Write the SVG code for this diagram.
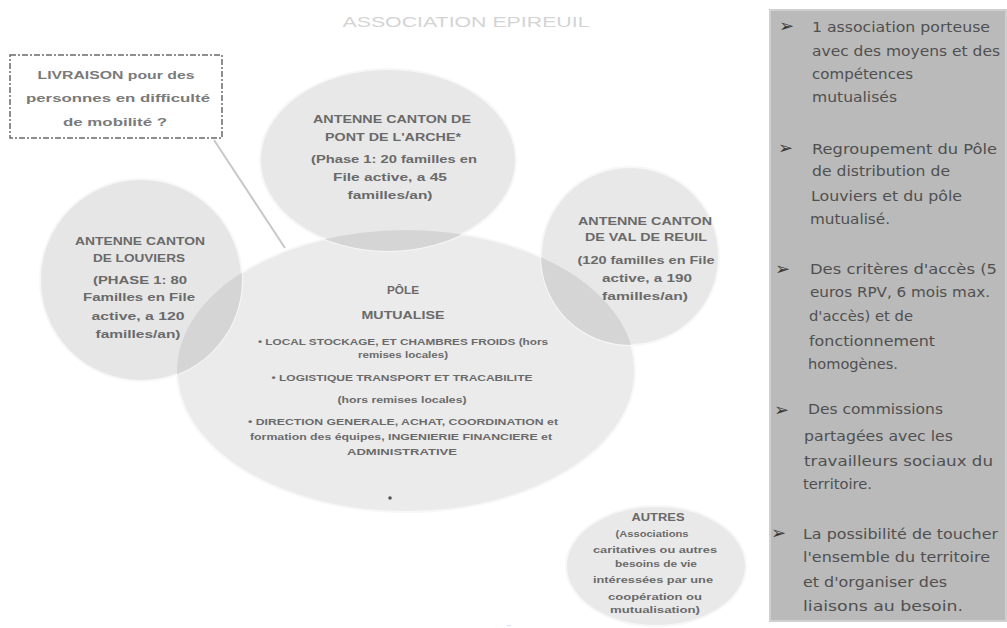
<svg xmlns="http://www.w3.org/2000/svg" width="1007" height="628" viewBox="0 0 1007 628">
<style>
.bg{fill:#ffffff}
.ell{stroke:#f7f7f7;stroke-width:2}
.ov{fill:#d5d5d5}
.nt{font-family:"Liberation Sans",Arial,sans-serif;font-weight:bold;font-size:10.5px;fill:#6a6a6a;text-anchor:middle}
.nts{font-family:"Liberation Sans",Arial,sans-serif;font-weight:bold;font-size:9px;fill:#6a6a6a;text-anchor:middle}
.pt{font-family:"DejaVu Sans",sans-serif;font-size:14px;fill:#505050}
.bu{font-family:"DejaVu Sans",sans-serif;font-size:18px;font-weight:bold;fill:#3a3a3a}
.title{font-family:"Liberation Sans",Arial,sans-serif;font-size:15px;fill:#d4d4d4;text-anchor:middle}
.bx{font-family:"Liberation Sans",Arial,sans-serif;font-weight:bold;font-size:11.5px;fill:#7a7a7a;text-anchor:middle}
</style>
<defs>
<clipPath id="cMain"><ellipse cx="406" cy="371" rx="229" ry="141"/></clipPath>
</defs>
<rect class="bg" x="0" y="0" width="1007" height="628"/>

<text class="title" x="466" y="27" textLength="247" lengthAdjust="spacingAndGlyphs">ASSOCIATION EPIREUIL</text>

<g id="connectors">
<line x1="214" y1="140" x2="285" y2="248" stroke="#c8c8c8" stroke-width="2"/>
</g>

<g id="pole-mutualise">
<ellipse class="ell" cx="406" cy="371" rx="229" ry="141" fill="#ebebeb"/>
</g>

<g id="antenne-pont-de-larche">
<ellipse class="ell" cx="388" cy="160" rx="128" ry="91" fill="#e8e8e8"/>
<ellipse class="ov" cx="388" cy="160" rx="128" ry="91" clip-path="url(#cMain)"/>
<text class="nt" x="392" y="123" textLength="158" lengthAdjust="spacingAndGlyphs">ANTENNE CANTON DE</text>
<text class="nt" x="393" y="141" textLength="136" lengthAdjust="spacingAndGlyphs">PONT DE L'ARCHE*</text>
<text class="nt" x="394" y="163" textLength="166" lengthAdjust="spacingAndGlyphs">(Phase 1: 20 familles en</text>
<text class="nt" x="390" y="181" textLength="114" lengthAdjust="spacingAndGlyphs">File active, a 45</text>
<text class="nt" x="390" y="199" textLength="85" lengthAdjust="spacingAndGlyphs">familles/an)</text>
</g>

<g id="antenne-louviers">
<circle class="ell" cx="141" cy="280" r="101" fill="#e6e6e6"/>
<circle class="ov" cx="141" cy="280" r="101" clip-path="url(#cMain)"/>
<text class="nt" x="140" y="245" textLength="130" lengthAdjust="spacingAndGlyphs">ANTENNE CANTON</text>
<text class="nt" x="139" y="262" textLength="92" lengthAdjust="spacingAndGlyphs">DE LOUVIERS</text>
<text class="nt" x="140" y="284" textLength="94" lengthAdjust="spacingAndGlyphs">(PHASE 1: 80</text>
<text class="nt" x="139" y="301" textLength="112" lengthAdjust="spacingAndGlyphs">Familles en File</text>
<text class="nt" x="138" y="320" textLength="93" lengthAdjust="spacingAndGlyphs">active, a 120</text>
<text class="nt" x="138" y="338" textLength="85" lengthAdjust="spacingAndGlyphs">familles/an)</text>
</g>

<g id="antenne-val-de-reuil">
<circle class="ell" cx="630" cy="256" r="89" fill="#e8e8e8"/>
<circle class="ov" cx="630" cy="256" r="89" clip-path="url(#cMain)"/>
<text class="nt" x="645" y="225" textLength="134" lengthAdjust="spacingAndGlyphs">ANTENNE CANTON</text>
<text class="nt" x="646" y="241" textLength="122" lengthAdjust="spacingAndGlyphs">DE VAL DE REUIL</text>
<text class="nt" x="646" y="264" textLength="137" lengthAdjust="spacingAndGlyphs">(120 familles en File</text>
<text class="nt" x="647" y="282" textLength="90" lengthAdjust="spacingAndGlyphs">active, a 190</text>
<text class="nt" x="645" y="300" textLength="86" lengthAdjust="spacingAndGlyphs">familles/an)</text>
</g>

<g id="pole-texts">
<text class="nt" x="403" y="294" textLength="32" lengthAdjust="spacingAndGlyphs">PÔLE</text>
<text class="nt" x="403" y="319" textLength="83" lengthAdjust="spacingAndGlyphs">MUTUALISE</text>
<text class="nts" x="403" y="345" textLength="290" lengthAdjust="spacingAndGlyphs">• LOCAL STOCKAGE, ET CHAMBRES FROIDS (hors</text>
<text class="nts" x="403" y="358" textLength="90" lengthAdjust="spacingAndGlyphs">remises locales)</text>
<text class="nts" x="402" y="381" textLength="261" lengthAdjust="spacingAndGlyphs">• LOGISTIQUE TRANSPORT ET TRACABILITE</text>
<text class="nts" x="402" y="403" textLength="129" lengthAdjust="spacingAndGlyphs">(hors remises locales)</text>
<text class="nts" x="403" y="425" textLength="310" lengthAdjust="spacingAndGlyphs">• DIRECTION GENERALE, ACHAT, COORDINATION et</text>
<text class="nts" x="401" y="440" textLength="302" lengthAdjust="spacingAndGlyphs">formation des équipes, INGENIERIE FINANCIERE et</text>
<text class="nts" x="402" y="455" textLength="110" lengthAdjust="spacingAndGlyphs">ADMINISTRATIVE</text>
<circle cx="390" cy="498" r="1.8" fill="#555"/>
</g>

<g id="autres">
<ellipse class="ell" cx="656" cy="566" rx="90" ry="60" fill="#e9e9e9"/>
<text class="nt" x="658" y="521" textLength="53" lengthAdjust="spacingAndGlyphs">AUTRES</text>
<text class="nts" x="652" y="537" textLength="73" lengthAdjust="spacingAndGlyphs">(Associations</text>
<text class="nts" x="655" y="553" textLength="124" lengthAdjust="spacingAndGlyphs">caritatives ou autres</text>
<text class="nts" x="656" y="567" textLength="82" lengthAdjust="spacingAndGlyphs">besoins de vie</text>
<text class="nts" x="653" y="583" textLength="120" lengthAdjust="spacingAndGlyphs">intéressées par une</text>
<text class="nts" x="655" y="600" textLength="94" lengthAdjust="spacingAndGlyphs">coopération ou</text>
<text class="nts" x="655" y="613" textLength="90" lengthAdjust="spacingAndGlyphs">mutualisation)</text>
</g>

<g id="livraison-box">
<rect x="10" y="55" width="212" height="83" fill="#ffffff" stroke="#6a6a6a" stroke-width="1.5" stroke-dasharray="6 2 2 2"/>
<text class="bx" x="116" y="79" textLength="157" lengthAdjust="spacingAndGlyphs">LIVRAISON pour des</text>
<text class="bx" x="118" y="102" textLength="184" lengthAdjust="spacingAndGlyphs">personnes en difficulté</text>
<text class="bx" x="115" y="126" textLength="104" lengthAdjust="spacingAndGlyphs">de mobilité ?</text>
</g>

<g id="panel">
<rect x="770" y="10" width="236" height="611" fill="#bababa" stroke="#d0d0d0" stroke-width="2"/>
<text class="bu" x="779" y="32">➢</text>
<text class="pt" x="812" y="32" textLength="178" lengthAdjust="spacingAndGlyphs">1 association porteuse</text>
<text class="pt" x="812" y="56" textLength="188" lengthAdjust="spacingAndGlyphs">avec des moyens et des</text>
<text class="pt" x="812" y="79" textLength="101" lengthAdjust="spacingAndGlyphs">compétences</text>
<text class="pt" x="812" y="102" textLength="85" lengthAdjust="spacingAndGlyphs">mutualisés</text>
<text class="bu" x="778" y="154">➢</text>
<text class="pt" x="812" y="154" textLength="185" lengthAdjust="spacingAndGlyphs">Regroupement du Pôle</text>
<text class="pt" x="812" y="176" textLength="138" lengthAdjust="spacingAndGlyphs">de distribution de</text>
<text class="pt" x="811" y="201" textLength="151" lengthAdjust="spacingAndGlyphs">Louviers et du pôle</text>
<text class="pt" x="810" y="224" textLength="80" lengthAdjust="spacingAndGlyphs">mutualisé.</text>
<text class="bu" x="775" y="275">➢</text>
<text class="pt" x="810" y="274" textLength="187" lengthAdjust="spacingAndGlyphs">Des critères d'accès (5</text>
<text class="pt" x="810" y="297" textLength="180" lengthAdjust="spacingAndGlyphs">euros RPV, 6 mois max.</text>
<text class="pt" x="809" y="321" textLength="104" lengthAdjust="spacingAndGlyphs">d'accès) et de</text>
<text class="pt" x="809" y="346" textLength="126" lengthAdjust="spacingAndGlyphs">fonctionnement</text>
<text class="pt" x="808" y="369" textLength="90" lengthAdjust="spacingAndGlyphs">homogènes.</text>
<text class="bu" x="774" y="416">➢</text>
<text class="pt" x="808" y="414" textLength="135" lengthAdjust="spacingAndGlyphs">Des commissions</text>
<text class="pt" x="804" y="441" textLength="149" lengthAdjust="spacingAndGlyphs">partagées avec les</text>
<text class="pt" x="804" y="466" textLength="189" lengthAdjust="spacingAndGlyphs">travailleurs sociaux du</text>
<text class="pt" x="803" y="489" textLength="69" lengthAdjust="spacingAndGlyphs">territoire.</text>
<text class="bu" x="771" y="539">➢</text>
<text class="pt" x="803" y="539" textLength="195" lengthAdjust="spacingAndGlyphs">La possibilité de toucher</text>
<text class="pt" x="803" y="562" textLength="187" lengthAdjust="spacingAndGlyphs">l'ensemble du territoire</text>
<text class="pt" x="803" y="587" textLength="144" lengthAdjust="spacingAndGlyphs">et d'organiser des</text>
<text class="pt" x="803" y="611" textLength="160" lengthAdjust="spacingAndGlyphs">liaisons au besoin.</text>
</g>

<text x="509" y="626" font-family="Liberation Sans, sans-serif" font-size="8" fill="#999" text-anchor="middle">..</text>
</svg>
